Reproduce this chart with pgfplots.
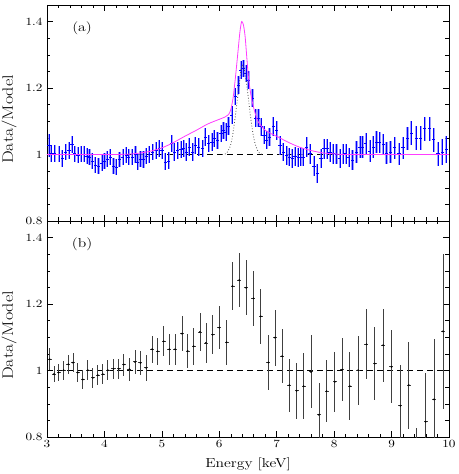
\documentclass[border=0pt]{standalone}
\usepackage{fontspec}
\setmainfont{Latin Modern Roman}[FakeStretch=1.2]
\usepackage{pgfplots}
\pgfplotsset{compat=1.18}
\usepackage{pgfplotstable}

% panel (a): ratio with light band errors
\pgfplotstableread{
x y ey
3.035 1.028 0.035
3.075 1.003 0.025
3.133 1.003 0.025
3.208 1.001 0.024
3.266 0.988 0.025
3.324 1.008 0.024
3.382 1.013 0.025
3.434 1.031 0.025
3.481 1.003 0.024
3.539 0.998 0.024
3.596 1.001 0.024
3.643 1.001 0.024
3.695 0.995 0.024
3.741 0.993 0.024
3.788 0.981 0.024
3.840 0.968 0.024
3.898 0.966 0.024
3.955 0.975 0.024
4.002 0.981 0.024
4.048 0.986 0.024
4.100 0.993 0.024
4.158 0.966 0.024
4.204 0.963 0.024
4.262 0.985 0.024
4.320 0.993 0.024
4.378 0.998 0.024
4.424 0.993 0.024
4.482 0.993 0.025
4.540 1.001 0.025
4.581 0.978 0.025
4.627 0.986 0.025
4.679 0.985 0.025
4.726 0.996 0.025
4.783 1.001 0.025
4.841 1.008 0.025
4.899 1.013 0.025
4.957 1.018 0.025
5.003 1.013 0.025
5.061 0.978 0.026
5.119 0.981 0.026
5.171 1.034 0.026
5.218 1.008 0.026
5.276 1.013 0.026
5.334 1.016 0.026
5.380 1.018 0.026
5.426 1.008 0.026
5.478 1.023 0.026
5.536 1.008 0.026
5.583 1.028 0.026
5.640 1.023 0.026
5.710 1.018 0.026
5.756 1.053 0.026
5.814 1.033 0.026
5.872 1.038 0.026
5.913 1.048 0.026
5.970 1.043 0.026
6.028 1.063 0.026
6.075 1.073 0.026
6.115 1.068 0.026
6.162 1.086 0.026
6.219 1.119 0.026
6.277 1.174 0.026
6.335 1.209 0.026
6.376 1.254 0.026
6.422 1.259 0.026
6.462 1.244 0.026
6.509 1.224 0.026
6.577 1.169 0.027
6.635 1.109 0.027
6.682 1.109 0.027
6.728 1.084 0.027
6.780 1.058 0.027
6.826 1.043 0.027
6.873 1.053 0.027
6.942 1.084 0.028
7.000 1.073 0.028
7.058 1.028 0.028
7.116 1.008 0.028
7.174 0.998 0.028
7.220 0.993 0.028
7.272 0.988 0.028
7.318 0.995 0.028
7.376 0.991 0.028
7.417 0.993 0.028
7.463 0.993 0.028
7.521 1.023 0.030
7.579 1.003 0.030
7.649 0.966 0.030
7.707 0.943 0.030
7.770 0.988 0.030
7.822 1.018 0.030
7.880 1.018 0.030
7.926 1.008 0.030
7.984 1.003 0.030
8.042 1.001 0.030
8.100 0.988 0.030
8.158 1.001 0.030
8.204 1.003 0.030
8.256 0.991 0.030
8.320 0.983 0.030
8.390 1.008 0.032
8.448 1.023 0.032
8.494 1.023 0.032
8.552 1.033 0.032
8.621 1.011 0.032
8.679 1.023 0.032
8.737 1.038 0.032
8.795 1.036 0.032
8.853 1.031 0.032
8.911 1.005 0.032
8.980 1.008 0.033
9.056 1.021 0.033
9.131 1.003 0.033
9.200 1.021 0.033
9.276 1.048 0.035
9.345 1.065 0.035
9.432 1.050 0.035
9.507 1.050 0.035
9.577 1.078 0.036
9.664 1.078 0.036
9.733 1.045 0.036
9.808 1.003 0.036
9.884 1.008 0.038
9.953 1.015 0.040
}\dataA

% panel (b)
\pgfplotstableread{
x y ey
3.046 1.034 0.033
3.122 0.989 0.024
3.203 0.994 0.025
3.290 1.001 0.028
3.371 1.019 0.028
3.452 1.024 0.028
3.538 0.994 0.028
3.625 0.973 0.028
3.712 1.001 0.030
3.799 0.978 0.031
3.886 0.986 0.031
3.973 0.989 0.031
4.060 1.001 0.030
4.158 1.005 0.031
4.251 1.005 0.031
4.338 1.018 0.033
4.436 1.004 0.035
4.534 1.026 0.035
4.627 1.023 0.036
4.726 1.008 0.040
4.830 1.064 0.040
4.928 1.058 0.041
5.032 1.088 0.045
5.131 1.064 0.047
5.229 1.064 0.047
5.351 1.111 0.052
5.449 1.059 0.052
5.554 1.073 0.055
5.664 1.116 0.056
5.768 1.083 0.059
5.884 1.108 0.058
6.000 1.129 0.064
6.127 1.085 0.067
6.231 1.254 0.073
6.347 1.272 0.082
6.467 1.249 0.083
6.595 1.217 0.084
6.722 1.163 0.082
6.855 1.024 0.082
6.971 1.099 0.084
7.093 1.043 0.082
7.220 0.956 0.080
7.347 0.939 0.084
7.469 0.953 0.100
7.596 0.996 0.110
7.735 0.867 0.096
7.869 0.938 0.093
8.013 0.966 0.090
8.141 1.003 0.095
8.274 0.953 0.103
8.419 1.001 0.104
8.563 1.079 0.105
8.708 1.021 0.110
8.853 1.076 0.110
8.998 1.011 0.110
9.154 0.894 0.123
9.299 0.956 0.131
9.440 0.750 0.076
9.594 0.846 0.147
9.739 0.913 0.181
9.895 1.118 0.233
}\dataB

\definecolor{bandblue}{RGB}{128,128,255}
\definecolor{modelmag}{RGB}{255,60,255}

\pgfplotsset{
  panel/.style={
    scale only axis, width=402pt, height=216pt,
    xmin=3, xmax=10, ymin=0.8, ymax=1.45,
    xtick={3,4,...,10}, minor x tick num=4,
    ytick={0.8,1,1.2,1.4}, minor y tick num=3,
    tick pos=both, tick align=inside,
    major tick length=6pt, minor tick length=3.5pt,
    every tick/.style={black, line width=0.5pt},
    axis line style={line width=0.7pt},
    /pgf/number format/assume math mode=true,
    ticklabel style={font=\fontsize{11}{13}\selectfont},
    yticklabel style={xshift=-1pt},
    ylabel={Data/Model},
    every axis y label/.style={at={(axis description cs:-0.0945,0.47)},
      rotate=90, anchor=center, font=\fontsize{15}{17}\selectfont},
    every axis x label/.style={at={(axis description cs:0.5,-0.125)},
      anchor=center, font=\fontsize{13}{15}\selectfont},
  },
}

\begin{document}
\begin{tikzpicture}
\useasboundingbox (-47pt,-37pt) rectangle (411pt,437pt);

% lower panel (b)
\begin{axis}[panel, at={(0,0)}, anchor=south west, xlabel={Energy [keV]}]
\addplot[black, dashed, dash pattern=on 6pt off 4pt, line width=0.6pt]
  coordinates {(3,1) (10,1)};
\addplot[black, mark=*, mark size=0.7pt, only marks,
  error bars/.cd, y dir=both, y explicit, x dir=both, x fixed=0.035,
  error mark=none, error bar style={black!75, line width=0.8pt}]
  table[x=x, y=y, y error=ey] {\dataB};
\node[font=\fontsize{13}{15}\selectfont] at (axis cs:3.61,1.38) {(b)};
\end{axis}

% upper panel (a)
\begin{axis}[panel, at={(0,216pt)}, anchor=south west, xticklabels={}]
\addplot[black, dashed, dash pattern=on 6pt off 4pt, line width=0.6pt]
  coordinates {(3,1) (10,1)};
\addplot[draw=none, mark=none,
  error bars/.cd, y dir=both, y explicit, error mark=none,
  error bar style={bandblue, line width=2.2pt, opacity=0.75}]
  table[x=x, y=y, y error=ey] {\dataA};
\addplot[draw=none, mark=none,
  error bars/.cd, y dir=both, y explicit, x dir=both, x fixed=0.028,
  error mark=none, error bar style={blue, line width=0.6pt}]
  table[x=x, y=y, y error=ey] {\dataA};
\addplot[black!70, dotted, line width=0.8pt, smooth] coordinates {
  (6.05,1.0) (6.12,1.003) (6.18,1.02) (6.22,1.045) (6.26,1.09) (6.30,1.145)
  (6.34,1.2) (6.37,1.245) (6.40,1.27) (6.43,1.26) (6.46,1.23) (6.50,1.18)
  (6.54,1.12) (6.58,1.07) (6.62,1.035) (6.66,1.015) (6.70,1.004) (6.75,1.0)};
\addplot[modelmag, line width=0.8pt, smooth] coordinates {
  (3,1.0) (4,1.0) (4.4,1.001) (4.6,1.004) (4.8,1.01) (5.0,1.02) (5.2,1.036)
  (5.4,1.055) (5.6,1.073) (5.8,1.092) (6.0,1.106) (6.1,1.113) (6.16,1.12)
  (6.2,1.135) (6.24,1.17) (6.28,1.23) (6.32,1.30) (6.36,1.37) (6.39,1.40)
  (6.42,1.39) (6.45,1.355) (6.48,1.29) (6.51,1.23) (6.55,1.18) (6.6,1.14)
  (6.66,1.105) (6.72,1.088) (6.8,1.073) (6.9,1.063) (7.0,1.055) (7.2,1.037)
  (7.4,1.022) (7.6,1.012) (7.8,1.005) (8.0,1.002) (8.3,1.0) (10,1.0)};
\node[font=\fontsize{13}{15}\selectfont] at (axis cs:3.61,1.38) {(a)};
\end{axis}
\end{tikzpicture}
\end{document}
